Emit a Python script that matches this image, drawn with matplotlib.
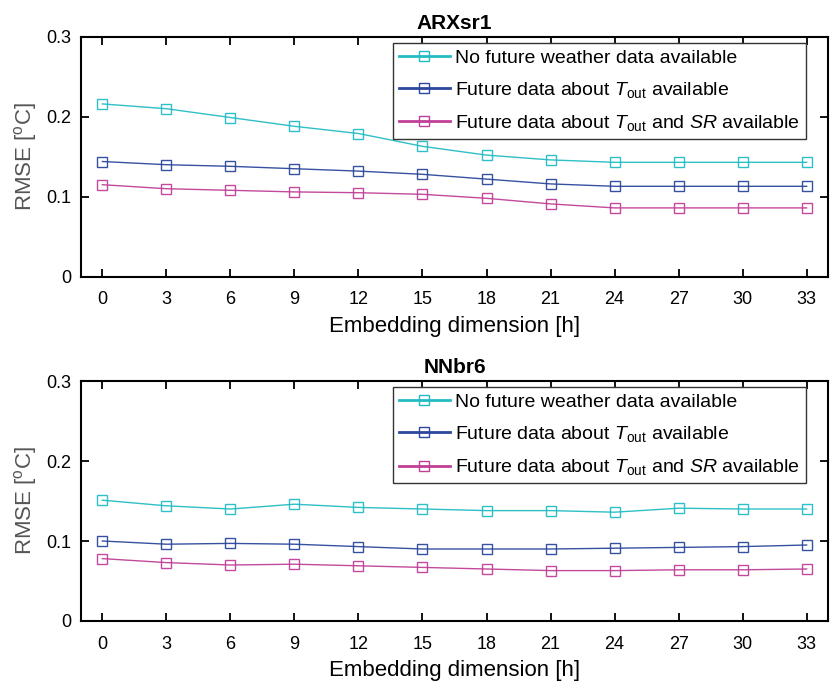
import matplotlib
matplotlib.use("Agg")
import matplotlib.pyplot as plt
from matplotlib.lines import Line2D

plt.rcParams["font.family"] = ["Liberation Sans", "DejaVu Sans"]
plt.rcParams["mathtext.fontset"] = "custom"
plt.rcParams["mathtext.rm"] = "Liberation Sans"
plt.rcParams["mathtext.it"] = "Liberation Sans:italic"
plt.rcParams["mathtext.bf"] = "Liberation Sans:bold"

# Embedding dimension [h]
embedding_h = [0, 3, 6, 9, 12, 15, 18, 21, 24, 27, 30, 33]

# ARXsr1 RMSE [oC]
arx_no_future = [0.216, 0.210, 0.199, 0.188, 0.179, 0.163, 0.152, 0.146, 0.143, 0.143, 0.143, 0.143]
arx_tout = [0.144, 0.140, 0.138, 0.135, 0.132, 0.128, 0.122, 0.116, 0.113, 0.113, 0.113, 0.113]
arx_tout_sr = [0.115, 0.110, 0.108, 0.106, 0.105, 0.103, 0.098, 0.091, 0.086, 0.086, 0.086, 0.086]

# NNbr6 RMSE [oC]
nn_no_future = [0.151, 0.144, 0.140, 0.146, 0.142, 0.140, 0.138, 0.138, 0.136, 0.141, 0.140, 0.140]
nn_tout = [0.100, 0.096, 0.097, 0.096, 0.093, 0.090, 0.090, 0.090, 0.091, 0.092, 0.093, 0.095]
nn_tout_sr = [0.078, 0.073, 0.070, 0.071, 0.069, 0.067, 0.065, 0.063, 0.063, 0.064, 0.064, 0.065]

series_labels = [
    "No future weather data available",
    r"Future data about $T_{\mathrm{out}}$ available",
    r"Future data about $T_{\mathrm{out}}$ and $SR$ available",
]
colors = ["#23bcc4", "#2c489c", "#c03f98"]
y_ticks = [0, 0.1, 0.2, 0.3]
y_tick_labels = ["0", "0.1", "0.2", "0.3"]

fig = plt.figure(figsize=(8.35, 6.89), dpi=100)
ax_top = fig.add_axes([0.097, 0.5984, 0.8946, 0.3483])
ax_bot = fig.add_axes([0.097, 0.0987, 0.8946, 0.3483])

panels = [
    (ax_top, "ARXsr1", [arx_no_future, arx_tout, arx_tout_sr]),
    (ax_bot, "NNbr6", [nn_no_future, nn_tout, nn_tout_sr]),
]

tick_fs = 13
label_fs = 16
legend_fs = 14
for ax, title, series in panels:
    for vals, col in zip(series, colors):
        ax.plot(embedding_h, vals, color=col, lw=1.0, marker="s", ms=7.5,
                mfc="none", mec=col, mew=1.0, alpha=0.95)
    ax.set_xlim(-1, 34)
    ax.set_ylim(0, 0.3)
    ax.set_xticks(embedding_h)
    ax.set_xticklabels([str(v) for v in embedding_h], fontsize=tick_fs)
    ax.set_yticks(y_ticks)
    ax.set_yticklabels(y_tick_labels, fontsize=tick_fs)
    ax.tick_params(direction="in", top=True, right=True, length=6, width=1.3)
    ax.tick_params(axis="x", pad=10.5)
    ax.tick_params(axis="y", pad=7)
    for sp in ax.spines.values():
        sp.set_linewidth(1.5)
    ax.set_title(title, fontsize=15, fontweight="bold", pad=5.5)
    ax.set_xlabel("Embedding dimension [h]", fontsize=label_fs, labelpad=5.5)
    ax.set_ylabel(r"RMSE [$^{\mathrm{o}}$C]", fontsize=label_fs,
                  color="#555555", labelpad=5)

    handles = [Line2D([], [], color=c, lw=2.0, marker="s", ms=7.5, mfc="none",
                      mec=c, mew=1.0) for c in colors]
    leg = ax.legend(handles, series_labels, loc="upper right",
                    bbox_to_anchor=(0.9705, 0.973), fontsize=legend_fs,
                    frameon=True, fancybox=False, framealpha=1,
                    edgecolor="#333333", handlelength=2.6, handletextpad=0.3,
                    borderpad=0.3, labelspacing=0.68, borderaxespad=0.0)
    leg.get_frame().set_linewidth(1.0)

fig.savefig("out.png", dpi=100)
